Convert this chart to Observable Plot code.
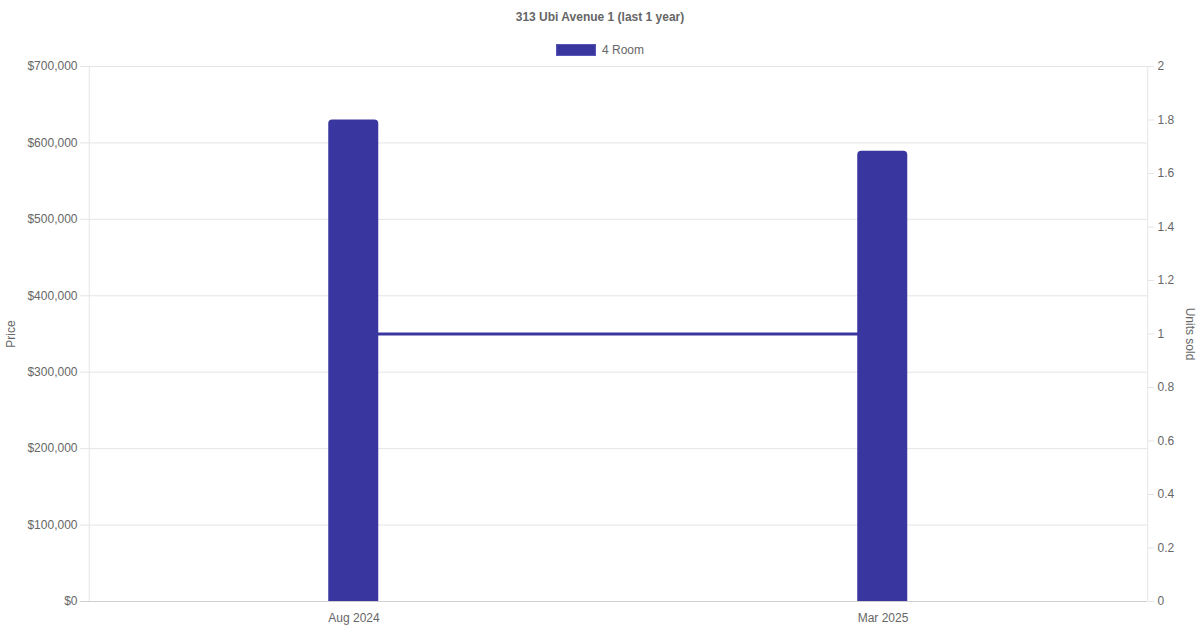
<!DOCTYPE html>
<html>
<head>
<meta charset="utf-8">
<script src="https://cdn.jsdelivr.net/npm/d3@7"></script>
<script src="https://cdn.jsdelivr.net/npm/@observablehq/plot@0.6"></script>
<style>
  html, body { margin: 0; padding: 0; background: #fff; }
  body { width: 1200px; height: 630px; overflow: hidden; font-family: "Liberation Sans", Arial, Helvetica, sans-serif; position: relative; }
  #title { position: absolute; top: 9px; left: 0; width: 1200px; text-align: center; font-size: 12px; font-weight: bold; color: #666; line-height: 16px; }
  #legend { position: absolute; top: 43px; left: 0; width: 1200px; display: flex; justify-content: center; align-items: center; font-size: 12px; color: #666; line-height: 14px; }
  #legend .sw { width: 38px; height: 10px; background: #3a36a0; border: 1px solid #5a56b8; margin-right: 6px; }
  #chart { position: absolute; top: 56px; left: 0; }
</style>
</head>
<body>
<div id="title">313 Ubi Avenue 1 (last 1 year)</div>
<div id="legend"><span class="sw"></span><span>4 Room</span></div>
<div id="chart"></div>
<script>
const months = ["Aug 2024", "Mar 2025"];
const prices = [630000, 589000];
const units = [1, 1];
const priceTicks = [0, 100000, 200000, 300000, 400000, 500000, 600000, 700000];
const unitTicks = [0, 0.2, 0.4, 0.6, 0.8, 1, 1.2, 1.4, 1.6, 1.8, 2];
const priceMax = 700000;
const unitsMax = 2;
const seriesName = "4 Room";
const color = "#3a36a0";

const ratio = priceMax / unitsMax;
const data = months.map((m, i) => ({month: m, price: prices[i], units: units[i]}));

const W = 1200, H = 574, mL = 88, mR = 53, mT = 10, mB = 29;
const band = (W - mL - mR) / months.length;
const barW = 50;
const inset = (band - barW) / 2;

const fmt = d3.format(",");
const chart = Plot.plot({
  width: W, height: H,
  marginLeft: mL, marginRight: mR, marginTop: mT, marginBottom: mB,
  style: {fontFamily: "'Liberation Sans', Arial, Helvetica, sans-serif", fontSize: "12px", color: "#666", background: "#fff"},
  x: {type: "band", domain: months, padding: 0, label: null},
  y: {domain: [0, priceMax], label: null},
  marks: [
    Plot.ruleY(priceTicks, {stroke: "#e5e5e5", insetLeft: -8}),
    Plot.ruleX([0], {x: () => months[0], stroke: "#e5e5e5", dx: -band / 2, y1: 0, y2: priceMax}),
    Plot.ruleX([0], {x: () => months[months.length - 1], stroke: "#e5e5e5", dx: band / 2, y1: 0, y2: priceMax}),
    Plot.ruleY([0], {stroke: "#cfcfcf", insetLeft: -8}),
    Plot.axisY({anchor: "left", ticks: priceTicks, tickFormat: d => "$" + fmt(d), tickSize: 0, tickPadding: 11, label: null, fill: "#666"}),
    Plot.axisY({anchor: "right", ticks: unitTicks.map(u => u * ratio), tickFormat: d => String(+(d / ratio).toFixed(1)), tickSize: 6, tickPadding: 4, label: null, stroke: "#e5e5e5", fill: "#666"}),
    Plot.axisX({tickSize: 0, tickPadding: 12, label: null, fill: "#666"}),
    Plot.line(data, {x: "month", y: d => d.units * ratio, stroke: color, strokeWidth: 3}),
    Plot.barY(data, {x: "month", y: "price", fill: color, insetLeft: inset - 0.5, insetRight: inset, ry1: 4}),
    Plot.text([seriesName], {frameAnchor: "left", text: () => "Price", rotate: -90, dx: -77, textAnchor: "middle", lineAnchor: "middle", fill: "#666"}),
    Plot.text([seriesName], {frameAnchor: "right", text: () => "Units sold", rotate: 90, dx: 42, textAnchor: "middle", lineAnchor: "middle", fill: "#666"})
  ]
});
document.getElementById("chart").appendChild(chart);
</script>
</body>
</html>
